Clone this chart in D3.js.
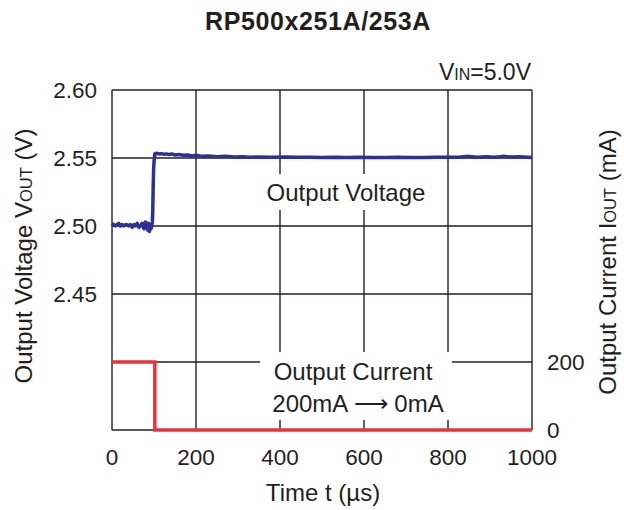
<!DOCTYPE html>
<html>
<meta charset="utf-8">
<style>
  body { margin: 0; background: #fff; }
  text { font-family: "Liberation Sans", Arial, sans-serif; fill: #231f20; }
  .grid line { stroke: #231f20; stroke-width: 1.4; }
</style>
<body>
<script src="https://d3js.org/d3.v7.min.js"></script>
<script>
  // tick labels
  let timeTicks = [0, 200, 400, 600, 800, 1000];
  let voltTicks = [2.45, 2.50, 2.55, 2.60];
  let currTicks = [0, 200];

  // output voltage trace
  let vTime = [0, 4, 8, 12, 16, 20, 24, 28, 32, 36, 40, 44, 48, 52, 56, 60, 64, 68, 72, 76, 80, 83, 85, 87, 89, 91, 93, 95, 96, 97, 98, 99, 100, 101, 102,
    106, 112, 118, 124, 130, 136, 142, 150, 160, 170, 180, 190, 200, 215, 230, 250, 270, 290, 310, 330, 350, 380, 410, 440, 470, 500,
    530, 560, 590, 620, 650, 680, 710, 740, 770, 800, 830, 850, 870, 890, 910, 930, 950, 970, 990, 1000];
  let vOut = [2.502, 2.501, 2.500, 2.501, 2.502, 2.500, 2.501, 2.500, 2.501, 2.501, 2.500, 2.501, 2.499, 2.501, 2.500, 2.502, 2.499, 2.500, 2.502, 2.498, 2.503, 2.499, 2.497, 2.502, 2.496, 2.500, 2.498, 2.501, 2.503, 2.510, 2.528, 2.541, 2.547, 2.550, 2.553,
    2.5535, 2.553, 2.5532, 2.5528, 2.553, 2.5525, 2.553, 2.5522, 2.5525, 2.552, 2.5522, 2.5515, 2.552, 2.5512, 2.5515, 2.551, 2.5512, 2.5508, 2.551, 2.5506, 2.5508, 2.5505, 2.5507, 2.5505, 2.5505, 2.5504,
    2.5505, 2.5503, 2.5505, 2.5504, 2.5503, 2.5505, 2.5504, 2.5503, 2.5505, 2.5506, 2.5508, 2.5512, 2.5506, 2.551, 2.5505, 2.5512, 2.5507, 2.551, 2.5505, 2.5503];

  // output current step 200mA -> 0mA
  let iTime = [0, 102, 102, 1000];
  let iOut = [200, 200, 0, 0];

  let width = 632, height = 510;
  let plotL = 112, plotR = 532, plotT = 90, plotB = 430;

  let svg = d3.select("body").append("svg")
    .attr("width", width)
    .attr("height", height);

  let x = d3.scaleLinear().domain([0, 1000]).range([plotL, plotR]);
  let yV = d3.scaleLinear().domain([2.35, 2.60]).range([plotB, plotT]);
  let yI = d3.scaleLinear().domain([0, 1000]).range([plotB, plotT]);

  // grid
  let grid = svg.append("g").attr("class", "grid");
  grid.selectAll(".vx").data(timeTicks).enter().append("line")
    .attr("x1", d => x(d)).attr("x2", d => x(d))
    .attr("y1", plotT).attr("y2", plotB);
  grid.selectAll(".hy").data(d3.range(2.35, 2.6001, 0.05)).enter().append("line")
    .attr("x1", plotL).attr("x2", plotR)
    .attr("y1", d => yV(d)).attr("y2", d => yV(d));

  // white boxes behind the in-plot labels
  svg.append("rect").attr("x", 262).attr("y", 174).attr("width", 168).attr("height", 36).attr("fill", "#fff");
  svg.append("rect").attr("x", 260).attr("y", 352).attr("width", 192).attr("height", 68).attr("fill", "#fff");

  // current trace
  svg.append("path")
    .datum(iTime.map((t, i) => [t, iOut[i]]))
    .attr("fill", "none")
    .attr("stroke", "#e8333b")
    .attr("stroke-width", 3.5)
    .attr("d", d3.line().x(d => x(d[0])).y(d => yI(d[1])));

  // voltage trace
  svg.append("path")
    .datum(vTime.map((t, i) => [t, vOut[i]]))
    .attr("fill", "none")
    .attr("stroke", "#2e3192")
    .attr("stroke-width", 3.5)
    .attr("stroke-linejoin", "round")
    .attr("d", d3.line().x(d => x(d[0])).y(d => yV(d[1])));

  // tick labels
  svg.selectAll(".xt").data(timeTicks).enter().append("text")
    .attr("x", d => x(d)).attr("y", 465)
    .attr("text-anchor", "middle").attr("font-size", 22.5)
    .text(d => d);
  svg.selectAll(".yt").data(voltTicks).enter().append("text")
    .attr("x", 97).attr("y", d => yV(d) + 8)
    .attr("text-anchor", "end").attr("font-size", 22.5)
    .text(d => d.toFixed(2));
  svg.selectAll(".it").data(currTicks).enter().append("text")
    .attr("x", 547).attr("y", d => yI(d) + 8)
    .attr("font-size", 22.5)
    .text(d => d);

  // title and labels
  svg.append("text").attr("x", 318).attr("y", 30)
    .attr("text-anchor", "middle").attr("font-size", 25).attr("font-weight", "bold")
    .attr("letter-spacing", 0.6)
    .text("RP500x251A/253A");

  let vin = svg.append("text").attr("x", 531).attr("y", 80)
    .attr("text-anchor", "end").attr("font-size", 23);
  vin.append("tspan").text("V");
  vin.append("tspan").attr("font-size", 16).text("IN");
  vin.append("tspan").text("=5.0V");

  svg.append("text").attr("x", 346).attr("y", 201)
    .attr("text-anchor", "middle").attr("font-size", 24)
    .text("Output Voltage");
  svg.append("text").attr("x", 353).attr("y", 380)
    .attr("text-anchor", "middle").attr("font-size", 24)
    .text("Output Current");
  svg.append("text").attr("x", 358).attr("y", 412)
    .attr("text-anchor", "middle").attr("font-size", 24)
    .text("200mA \u27F6 0mA");

  svg.append("text").attr("x", 323).attr("y", 501)
    .attr("text-anchor", "middle").attr("font-size", 24)
    .text("Time t (\u00B5s)");

  let yl = svg.append("text")
    .attr("transform", "translate(32,256) rotate(-90)")
    .attr("text-anchor", "middle").attr("font-size", 24);
  yl.append("tspan").text("Output Voltage V");
  yl.append("tspan").attr("font-size", 16.5).text("OUT");
  yl.append("tspan").text(" (V)");

  let yr = svg.append("text")
    .attr("transform", "translate(616,262) rotate(-90)")
    .attr("text-anchor", "middle").attr("font-size", 24);
  yr.append("tspan").text("Output Current I");
  yr.append("tspan").attr("font-size", 16.5).text("OUT");
  yr.append("tspan").text(" (mA)");
</script>
</body>
</html>
